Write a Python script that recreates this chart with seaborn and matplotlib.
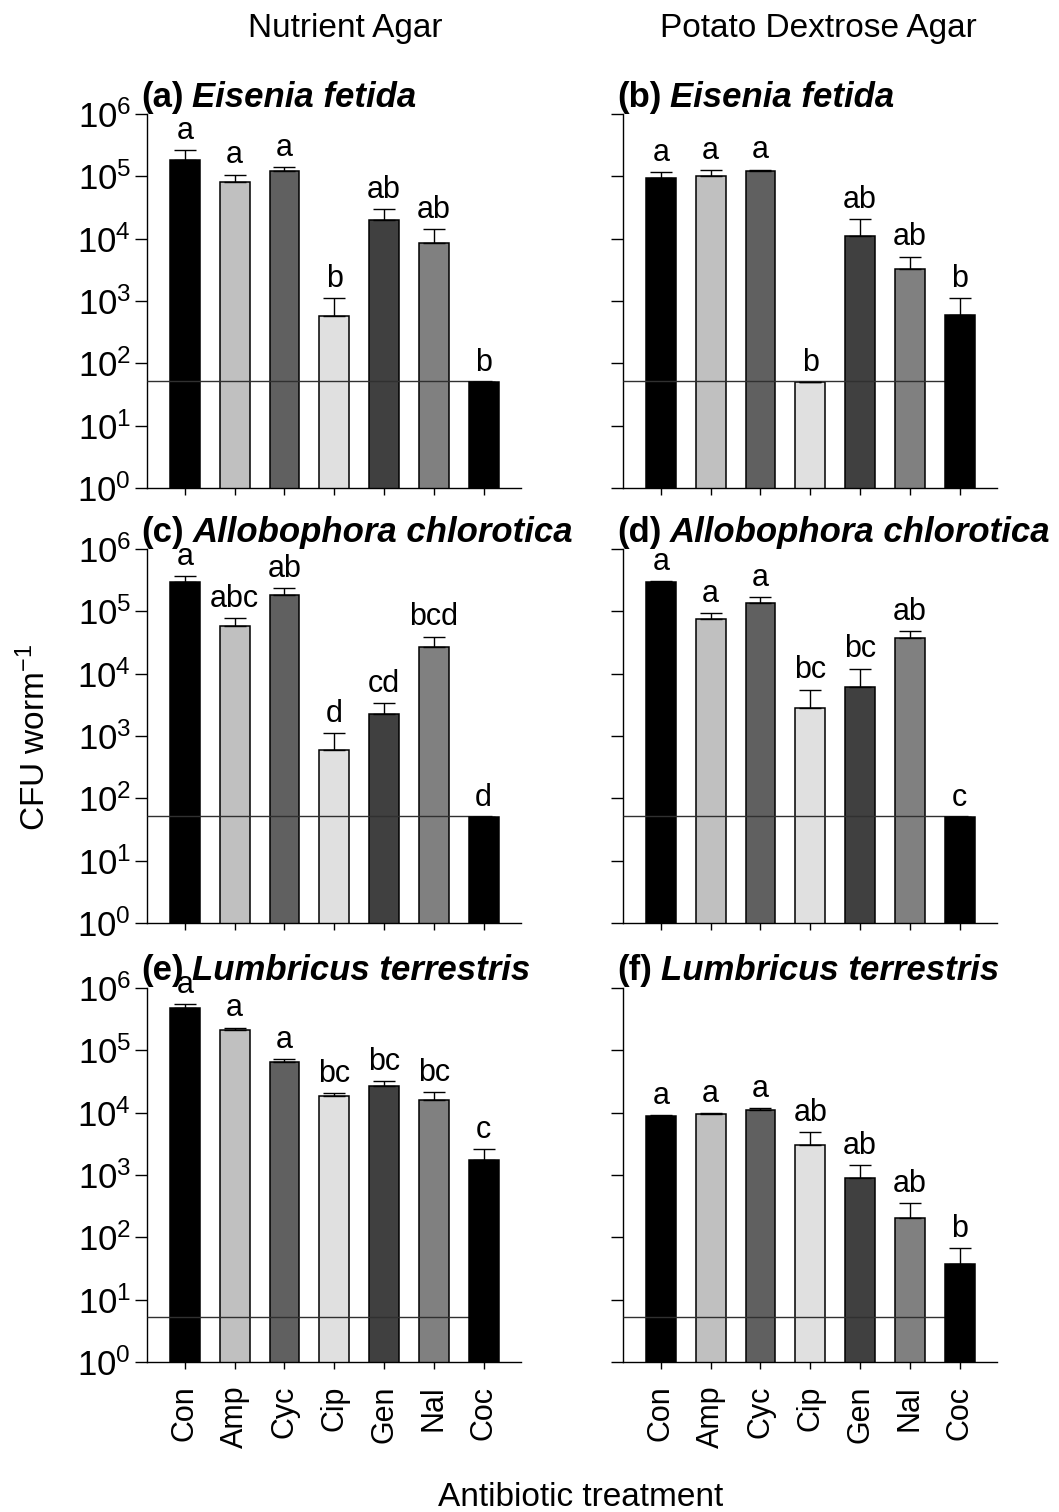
import numpy as np
import pandas as pd
import matplotlib
matplotlib.use("Agg")
import matplotlib.pyplot as plt
from matplotlib.ticker import LogLocator, NullLocator
import seaborn as sns

# =========================================================
# DATA
# =========================================================

treatments = ["Con", "Amp", "Cyc", "Cip", "Gen", "Nal", "Coc"]

# (a) Nutrient Agar - Eisenia fetida
na_fetida = [185000, 82000, 123000, 585, 20300, 8400, 50]
na_fetida_se = [82000, 25000, 16000, 525, 9500, 5800, 0]
na_fetida_letters = ["a", "a", "a", "b", "ab", "ab", "b"]

# (b) Potato Dextrose Agar - Eisenia fetida
pda_fetida = [92700, 103000, 120000, 50, 11200, 3320, 590]
pda_fetida_se = [23000, 22000, 8000, 0, 9400, 1850, 520]
pda_fetida_letters = ["a", "a", "a", "b", "ab", "ab", "b"]

# (c) Nutrient Agar - Allobophora chlorotica
na_chlorotica = [295000, 58600, 185000, 597, 2260, 27300, 50]
na_chlorotica_se = [78000, 18300, 48000, 530, 1090, 12200, 0]
na_chlorotica_letters = ["a", "abc", "ab", "d", "cd", "bcd", "d"]

# (d) Potato Dextrose Agar - Allobophora chlorotica
pda_chlorotica = [295000, 75000, 134000, 2860, 6210, 36700, 50]
pda_chlorotica_se = [15000, 18700, 33000, 2700, 5900, 12100, 0]
pda_chlorotica_letters = ["a", "a", "a", "bc", "bc", "ab", "c"]

# (e) Nutrient Agar - Lumbricus terrestris
na_terrestris = [471000, 211000, 64000, 18700, 26400, 15700, 1710]
na_terrestris_se = [76000, 20000, 9300, 1600, 6100, 5900, 920]
na_terrestris_letters = ["a", "a", "a", "bc", "bc", "bc", "c"]

# (f) Potato Dextrose Agar - Lumbricus terrestris
pda_terrestris = [8800, 9470, 11200, 3010, 910, 202, 36.9]
pda_terrestris_se = [300, 480, 600, 1800, 510, 150, 31]
pda_terrestris_letters = ["a", "a", "a", "ab", "ab", "ab", "b"]

# detection limits (horizontal lines)
detection_limits = [53, 53, 53, 53, 5.3, 5.3]

panel_labels = ["(a)", "(b)", "(c)", "(d)", "(e)", "(f)"]
species = [
    "Eisenia fetida", "Eisenia fetida",
    "Allobophora chlorotica", "Allobophora chlorotica",
    "Lumbricus terrestris", "Lumbricus terrestris",
]
column_titles = ["Nutrient Agar", "Potato Dextrose Agar"]

panels = [
    (na_fetida, na_fetida_se, na_fetida_letters),
    (pda_fetida, pda_fetida_se, pda_fetida_letters),
    (na_chlorotica, na_chlorotica_se, na_chlorotica_letters),
    (pda_chlorotica, pda_chlorotica_se, pda_chlorotica_letters),
    (na_terrestris, na_terrestris_se, na_terrestris_letters),
    (pda_terrestris, pda_terrestris_se, pda_terrestris_letters),
]

bar_colors = ["#000000", "#c0c0c0", "#606060", "#e0e0e0",
              "#404040", "#808080", "#000000"]

# =========================================================
# STYLE
# =========================================================

sns.set_style("ticks")
plt.rcParams["font.family"] = ["Liberation Sans", "DejaVu Sans"]
plt.rcParams["mathtext.fontset"] = "custom"
plt.rcParams["mathtext.rm"] = "Liberation Sans"
plt.rcParams["mathtext.it"] = "Liberation Sans:italic"
plt.rcParams["mathtext.bf"] = "Liberation Sans:bold"
plt.rcParams["axes.linewidth"] = 1.0
plt.rcParams["text.color"] = "black"
plt.rcParams["axes.labelcolor"] = "black"
plt.rcParams["axes.edgecolor"] = "black"
plt.rcParams["xtick.color"] = "black"
plt.rcParams["ytick.color"] = "black"

# =========================================================
# FIGURE
# =========================================================

fig = plt.figure(figsize=(10.59, 15.12), dpi=100)

lefts = [0.1388, 0.5883]
bottoms = [0.6772, 0.3895, 0.0992]
width = 0.3532
height = 0.2474

for i, (vals, se, letters) in enumerate(panels):

    row, col = divmod(i, 2)

    ax = fig.add_axes([lefts[col], bottoms[row], width, height])

    df = pd.DataFrame({"treatment": treatments, "cfu": vals})

    sns.barplot(
        data=df,
        x="treatment",
        y="cfu",
        hue="treatment",
        palette=bar_colors,
        legend=False,
        saturation=1,
        width=0.6,
        edgecolor="black",
        linewidth=1.1,
        errorbar=None,
        ax=ax,
    )

    ax.set_yscale("log")
    ax.set_ylim(1, 1e6)
    ax.set_xlim(-0.76, 6.75)

    for p in ax.patches:
        p.set_zorder(2)
    # last bar sits above the detection line
    ax.patches[-1].set_zorder(4)

    x = np.arange(len(treatments))
    vals_arr = np.array(vals, dtype=float)
    se_arr = np.array(se, dtype=float)

    # upper error bars only (capsize is half the cap length)
    ax.errorbar(
        x, vals_arr,
        yerr=[np.zeros_like(se_arr), se_arr],
        fmt="none",
        ecolor="black",
        elinewidth=1.0,
        capsize=8,
        capthick=1.0,
        zorder=5,
    )

    # detection limit
    ax.hlines(detection_limits[i], -0.76, 6.17,
              color="#303030", linewidth=1.0, zorder=3)

    # significance letters
    for xi, top, lab in zip(x, vals_arr + se_arr, letters):
        ax.annotate(
            lab, xy=(xi, top), xytext=(0, 3),
            textcoords="offset points",
            ha="center", va="bottom", fontsize=22,
        )

    # axes cosmetics
    sns.despine(ax=ax)
    ax.yaxis.set_major_locator(LogLocator(base=10, numticks=10))
    ax.yaxis.set_minor_locator(NullLocator())
    ax.tick_params(axis="y", length=8.5, width=1.0, pad=3, labelsize=25)
    ax.tick_params(axis="x", length=5, width=1.0, pad=12, labelsize=22)
    ax.set_xlabel("")
    ax.set_ylabel("")

    if col == 1:
        ax.tick_params(axis="y", labelleft=False)

    if row < 2:
        ax.tick_params(axis="x", labelbottom=False)
    else:
        ax.set_xticks(x)
        ax.set_xticklabels(treatments, rotation=90)

    # panel title: bold label + bold italic species
    t = ax.text(-0.015, 1.02, panel_labels[i], transform=ax.transAxes,
                fontsize=25, fontweight="bold", ha="left", va="baseline")
    ax.annotate(species[i], xy=(1, 0), xycoords=t,
                xytext=(6, 0), textcoords="offset points",
                fontsize=25, fontweight="bold", fontstyle="italic",
                ha="left", va="bottom")

# =========================================================
# FIGURE LABELS
# =========================================================

fig.text(0.3258, 0.9755, column_titles[0], fontsize=24,
         ha="center", va="baseline")
fig.text(0.7724, 0.9755, column_titles[1], fontsize=24,
         ha="center", va="baseline")

fig.text(0.033, 0.5126, "CFU worm$^{-1}$", fontsize=24,
         rotation=90, ha="center", va="center")

fig.text(0.5487, 0.004, "Antibiotic treatment", fontsize=24,
         ha="center", va="baseline")

fig.savefig("out.png", dpi=100)
plt.close(fig)
